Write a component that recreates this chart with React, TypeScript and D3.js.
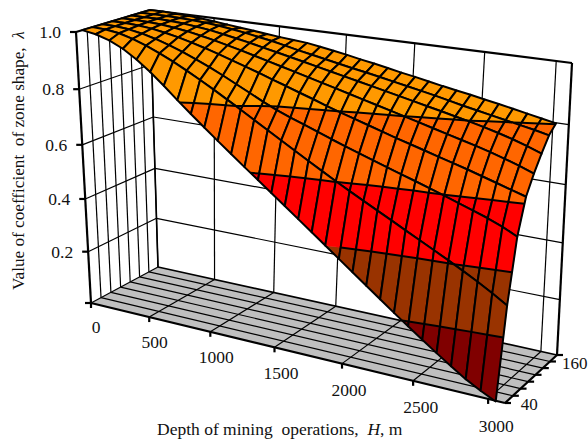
import React from "react";
import * as d3 from "d3";

const depthsH = d3.range(0, 3001, 100);
const depthTicks = [0, 500, 1000, 1500, 2000, 2500, 3000];
const zoneDepths = [20, 40, 60, 80, 100, 120, 140, 160];
const zoneLabels = [40, 160];
const lambdaTicks = [0.2, 0.4, 0.6, 0.8, 1.0];
const bandLevels = [0, 0.2, 0.4, 0.6, 0.8, 1.0001];
const bandColors = ["#800000", "#993300", "#FF0000", "#FF6600", "#FF9900"];

const s20 = [1,.992,.977,.955,.925,.889,.849,.807,.767,.728,.690,.653,.616,.580,.544,.508,.472,.436,.400,.364,.328,.292,.256,.220,.185,.150,.116,.083,.051,.024,0];
const s40 = [1,.998,.991,.978,.961,.941,.919,.895,.870,.844,.817,.790,.762,.735,.708,.681,.654,.628,.602,.577,.553,.529,.505,.481,.457,.433,.409,.384,.358,.330,.30];
const s60 = [1,.999,.994,.985,.973,.958,.941,.922,.902,.880,.857,.834,.811,.790,.772,.755,.738,.721,.705,.689,.673,.658,.643,.628,.613,.597,.581,.565,.549,.530,.507];
const s80 = [1,1,.997,.992,.984,.974,.962,.949,.935,.920,.905,.890,.874,.859,.843,.828,.812,.797,.783,.769,.755,.741,.728,.715,.702,.689,.676,.662,.648,.634,.62];
const s100 = [1,1,.999,.996,.991,.984,.975,.965,.954,.943,.931,.919,.907,.895,.883,.871,.859,.847,.835,.823,.811,.799,.787,.775,.763,.751,.739,.726,.712,.697,.68];
const s120 = [1,1,1,.998,.995,.990,.984,.976,.967,.958,.948,.938,.928,.918,.908,.898,.888,.878,.868,.858,.848,.838,.828,.818,.808,.798,.787,.775,.762,.747,.73];
const s140 = [1,1,1,.999,.997,.994,.989,.983,.976,.968,.960,.950,.940,.931,.922,.913,.904,.896,.887,.878,.869,.860,.851,.841,.831,.822,.813,.804,.795,.786,.776];
const s160 = [1,1,.998,.997,.993,.988,.983,.978,.973,.968,.963,.959,.955,.948,.940,.932,.923,.915,.906,.897,.889,.880,.871,.863,.855,.846,.838,.829,.820,.811,.802];
const seriesValues = [s20, s40, s60, s80, s100, s120, s140, s160];

type P = [number, number];

// Frame anchors of the projected box (front-left, front-right, back-right, back-left)
const floorQuad: P[] = [[91, 303], [505, 403], [557, 355], [158, 267]];
const topQuad: P[] = [[76, 32], [519, 90], [572, 63], [150, 10]];

function quadMap(q: P[]) {
  const [[x0, y0], [x1, y1], [x2, y2], [x3, y3]] = q;
  const dx1 = x1 - x2, dy1 = y1 - y2, dx2 = x3 - x2, dy2 = y3 - y2;
  const sx = x0 - x1 + x2 - x3, sy = y0 - y1 + y2 - y3;
  const det = dx1 * dy2 - dx2 * dy1;
  const g = (sx * dy2 - dx2 * sy) / det;
  const h = (dx1 * sy - sx * dy1) / det;
  const a = x1 - x0 + g * x1, b = x3 - x0 + h * x3;
  const d = y1 - y0 + g * y1, e = y3 - y0 + h * y3;
  return (u: number, v: number): P => {
    const den = g * u + h * v + 1;
    return [(a * u + b * v + x0) / den, (d * u + e * v + y0) / den];
  };
}
const floorMap = quadMap(floorQuad);
const topMap = quadMap(topQuad);
const project = (u: number, v: number, w: number): P => {
  const t = w / (w + (1 - w) * 1.07);
  const f = floorMap(u, v), c = topMap(u, v);
  return [f[0] + (c[0] - f[0]) * t, f[1] + (c[1] - f[1]) * t];
};

const uTick = d3.scaleLinear().domain([0, 3000]).range([0, 0.965]);
const uSurf = d3.scaleLinear().domain([0, 3000]).range([0, 0.972]);
const vTick = d3.scaleLinear().domain([20, 160]).range([0, 1]);
const vSurf = d3.scaleLinear().domain([20, 160]).range([0.08, 1]);
const w = d3.scaleLinear().domain([0, 1]).range([0, 1]);
const wSurf = d3.scaleLinear().domain([0, 1]).range([-0.02, 1]);
const line = d3.line<P>();

type N = { p: P; l: number };

function clipBand(poly: N[], lo: number, hi: number): P[] {
  const clip = (pts: N[], keep: (l: number) => boolean, level: number) => {
    const out: N[] = [];
    pts.forEach((a, i) => {
      const b = pts[(i + 1) % pts.length];
      const ka = keep(a.l), kb = keep(b.l);
      if (ka) out.push(a);
      if (ka !== kb) {
        const t = (level - a.l) / (b.l - a.l);
        out.push({ p: [a.p[0] + (b.p[0] - a.p[0]) * t, a.p[1] + (b.p[1] - a.p[1]) * t], l: level });
      }
    });
    return out;
  };
  return clip(clip(poly, (l) => l >= lo, lo), (l) => l <= hi, hi).map((n) => n.p);
}

function contourSegments(poly: N[], level: number): P[] {
  const pts: P[] = [];
  poly.forEach((a, i) => {
    const b = poly[(i + 1) % poly.length];
    if ((a.l - level) * (b.l - level) < 0) {
      const t = (level - a.l) / (b.l - a.l);
      pts.push([a.p[0] + (b.p[0] - a.p[0]) * t, a.p[1] + (b.p[1] - a.p[1]) * t]);
    }
  });
  return pts;
}

const seg = (a: P, b: P) => line([a, b]) as string;
const FONT = "'Liberation Serif','Times New Roman',serif";

export default function App() {
  const cells: React.ReactNode[] = [];
  for (let s = zoneDepths.length - 2; s >= 0; s--) {
    for (let i = 0; i < depthsH.length - 1; i++) {
      const node = (si: number, ci: number): N => ({
        p: project(uSurf(depthsH[ci]), vSurf(zoneDepths[si]), wSurf(seriesValues[si][ci])),
        l: seriesValues[si][ci],
      });
      const poly = [node(s, i), node(s, i + 1), node(s + 1, i + 1), node(s + 1, i)];
      const key = `${s}-${i}`;
      cells.push(
        <g key={key}>
          {bandColors.map((c, b) => {
            const pts = clipBand(poly, bandLevels[b], bandLevels[b + 1]);
            return pts.length > 2 ? (
              <path key={c} d={(line(pts) as string) + "Z"} fill={c} stroke={c} strokeWidth={0.5} />
            ) : null;
          })}
          {bandLevels.slice(1, 5).map((lv) => {
            const pts = contourSegments(poly, lv);
            return pts.length === 2 ? (
              <path key={lv} d={line(pts) as string} fill="none" stroke="#000" strokeWidth={2} />
            ) : null;
          })}
          <path
            d={(line(poly.map((n) => n.p)) as string) + "Z"}
            fill="none"
            stroke="#000"
            strokeWidth={2}
            strokeLinejoin="round"
          />
        </g>
      );
    }
  }

  const vIdx = zoneDepths.map((d) => vTick(d));
  const floorPath = (line(floorQuad) as string) + "Z";

  const thin = { stroke: "#000", strokeWidth: 1.2, fill: "none" };
  const thick = { stroke: "#000", strokeWidth: 2.2, fill: "none" };

  const xLabelPos = (h: number): P => {
    const p = project(uTick(h), 0, 0);
    return [p[0] + 5 + h * 0.001, p[1] + 25 + h * 0.001];
  };

  return (
    <svg width={588} height={439} style={{ position: "absolute", left: 0, top: 0 }} fontFamily={FONT}>
      <rect width={588} height={439} fill="#fff" />
      {/* left wall */}
      {vIdx.slice(1).map((v, i) => (
        <path key={`lv${i}`} d={seg(project(0, v, 0), project(0, v, 1))} {...thin} />
      ))}
      {lambdaTicks.slice(0, 4).map((t) => (
        <path key={`lh${t}`} d={seg(project(0, 0, w(t)), project(0, 1, w(t)))} {...thin} />
      ))}
      {/* back wall */}
      {depthTicks.slice(1).map((h) => (
        <path key={`bv${h}`} d={seg(project(uTick(h), 1, 0), project(uTick(h), 1, 1))} {...thin} />
      ))}
      {lambdaTicks.slice(0, 4).map((t) => (
        <path key={`bh${t}`} d={seg(project(0, 1, w(t)), project(1, 1, w(t)))} {...thin} />
      ))}
      {/* floor */}
      <path d={floorPath} fill="#BFBFBF" stroke="none" />
      {vIdx.slice(1, -1).map((v, i) => (
        <path key={`fl${i}`} d={seg(project(0, v, 0), project(1, v, 0))} {...thin} />
      ))}
      {depthTicks.slice(1).map((h) => (
        <path key={`fx${h}`} d={seg(project(uTick(h), 0, 0), project(uTick(h), 1, 0))} {...thin} />
      ))}
      {/* frame */}
      <path d={seg(project(0, 1, 0), project(0, 1, 1))} stroke="#000" strokeWidth={1.6} fill="none" />
      <path d={seg(project(0, 1, 0), project(1, 1, 0))} stroke="#000" strokeWidth={1.6} fill="none" />
      <path d={seg(project(0, 0, 0), project(0, 1, 0))} stroke="#000" strokeWidth={1.2} fill="none" />
      <path d={seg(project(0, 0, 1), project(0, 1, 1))} {...thick} />
      <path d={seg(project(0, 1, 1), project(1, 1, 1))} {...thick} />
      <path d={seg(project(1, 1, 1), project(1, 1, 0))} {...thick} />
      <path d={seg(project(0, 0, 0), project(0, 0, 1))} {...thick} />
      <path d={seg(project(0, 0, 0), project(1, 0, 0))} {...thick} />
      <path d={seg(project(1, 0, 0), project(1, 1, 0))} {...thick} />

      {/* surface */}
      {cells}

      {/* ticks and labels */}
      {[0, ...lambdaTicks].map((t) => {
        const p = project(0, 0, w(t));
        return <path key={`t${t}`} d={seg([p[0] - 6, p[1]], p)} {...thick} />;
      })}
      {lambdaTicks.map((t) => {
        const p = project(0, 0, w(t));
        return (
          <text key={t} x={p[0] - 15} y={p[1] + 6} fontSize={17.5} textAnchor="end" fill="#111">
            {t.toFixed(1)}
          </text>
        );
      })}
      {depthTicks.map((h) => {
        const p = project(uTick(h), 0, 0);
        const lp = xLabelPos(h);
        return (
          <g key={h}>
            <path d={seg(p, [p[0], p[1] + 5])} {...thick} />
            <text x={lp[0]} y={lp[1] + 5} fontSize={17.5} textAnchor="middle" fill="#111">
              {h}
            </text>
          </g>
        );
      })}
      {vIdx.map((v, i) => {
        const p = project(1, v, 0);
        return <path key={`dt${i}`} d={seg(p, [p[0] + 6, p[1]])} {...thick} />;
      })}
      {zoneLabels.map((d) => {
        const p = project(1, vTick(d), 0);
        return (
          <text key={d} x={p[0] + (d === 160 ? 5 : 8)} y={p[1] + 14} fontSize={17} fill="#111">
            {d}
          </text>
        );
      })}
      <text x={157} y={435} fontSize={17.5} fill="#111" xmlSpace="preserve">
        Depth of mining  operations,  <tspan fontStyle="italic">H</tspan>, m
      </text>
      <text
        transform="translate(24,290) rotate(-90)"
        fontSize={17.2}
        fill="#111"
        xmlSpace="preserve"
      >
        Value of coefficient  of zone shape,  <tspan fontStyle="italic">λ</tspan>
      </text>
    </svg>
  );
}
